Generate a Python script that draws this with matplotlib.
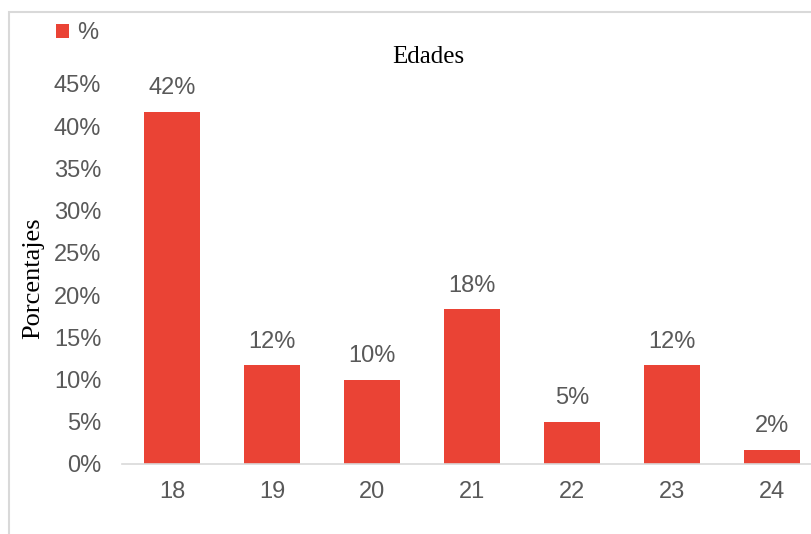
import matplotlib.pyplot as plt
from matplotlib.patches import Rectangle

edades = ["18", "19", "20", "21", "22", "23", "24"]
porcentajes = [41.7, 11.7, 10.0, 18.3, 5.0, 11.7, 1.7]
yticks = [0, 5, 10, 15, 20, 25, 30, 35, 40, 45]

rojo = "#EA4335"
gris = "#595959"
fs = 17

fig = plt.figure(figsize=(8.12, 5.34), dpi=100)

# marco gris del area del grafico (se sale por la derecha y abajo)
fig.patches.append(Rectangle((9 / 812, -0.1), 1.0, 1 - 12 / 534 + 0.1,
                             transform=fig.transFigure, fill=False,
                             edgecolor="#D9D9D9", linewidth=1.5))

# ejes: 0% en y=464 px, 45% en y=84 px, categorias cada 100 px desde x=122
ax = fig.add_axes([122 / 812, (534 - 464) / 534, 700 / 812, (464 - 84) / 534])
x = range(len(edades))
bars = ax.bar(x, porcentajes, width=0.56, color=rojo, label="%")

for xi, v in zip(x, porcentajes):
    ax.annotate(f"{v:.0f}%", (xi, v), xytext=(0, 9), textcoords="offset points",
                ha="center", va="bottom", fontsize=fs, color=gris,
                family="Liberation Sans")

ax.set_xlim(-0.5, len(edades) - 0.5)
ax.set_ylim(0, 45)
ax.set_xticks(list(x))
ax.set_xticklabels(edades)
ax.set_yticks(yticks)
ax.set_yticklabels([f"{t}%" for t in yticks])
for lab in ax.get_xticklabels() + ax.get_yticklabels():
    lab.set_family("Liberation Sans")
    lab.set_fontsize(fs)
    lab.set_color(gris)
ax.tick_params(axis="both", length=0)
ax.tick_params(axis="x", pad=12)
ax.tick_params(axis="y", pad=15)

for s in ["top", "right", "left"]:
    ax.spines[s].set_visible(False)
ax.spines["bottom"].set_color("#D9D9D9")
ax.spines["bottom"].set_linewidth(1.2)

fig.text(428 / 812, 1 - 57 / 534, "Edades", ha="center", va="center",
         fontsize=18, family="Liberation Serif", color="black")
fig.text(33 / 812, 1 - 278 / 534, "Porcentajes", ha="center", va="center",
         rotation=90, fontsize=19, family="Liberation Serif", color="black")

leg = fig.legend(handles=[bars], labels=["%"], loc="center left",
                 bbox_to_anchor=(56 / 812, 1 - 33 / 534), frameon=False,
                 borderpad=0, borderaxespad=0,
                 handlelength=0.55, handleheight=0.55, handletextpad=0.35,
                 prop={"family": "Liberation Sans", "size": fs})
for t in leg.get_texts():
    t.set_color(gris)

fig.savefig("out.png", dpi=100)
